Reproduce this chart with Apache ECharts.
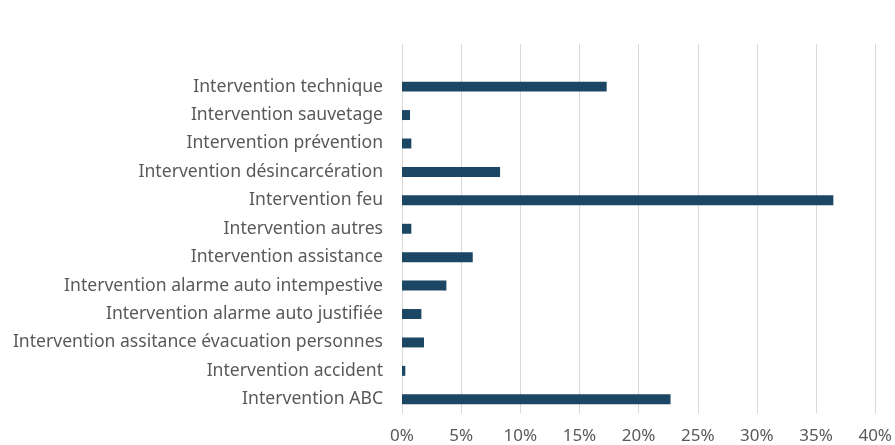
<!DOCTYPE html>
<html>
<head>
<meta charset="utf-8">
<script src="https://cdn.jsdelivr.net/npm/echarts@6/dist/echarts.min.js"></script>
<style>
	html, body {margin: 0; padding: 0; background: #fff;}
	#chart {width: 895px; height: 445px;}
</style>
</head>
<body>
<div id="chart"></div>
<script>
	// bottom to top
	var categories = [
		'Intervention ABC',
		'Intervention accident',
		'Intervention assitance évacuation personnes',
		'Intervention alarme auto justifiée',
		'Intervention alarme auto intempestive',
		'Intervention assistance',
		'Intervention autres',
		'Intervention feu',
		'Intervention désincarcération',
		'Intervention prévention',
		'Intervention sauvetage',
		'Intervention technique'
	];
	// share of interventions, in %
	var shares = [22.7, 0.28, 1.86, 1.64, 3.75, 5.98, 0.79, 36.46, 8.29, 0.79, 0.68, 17.3];

	var xTicks = [0, 5, 10, 15, 20, 25, 30, 35, 40];

	var textColor = '#595959';
	var font = '"Noto Sans", "Open Sans", sans-serif';

	var chart = echarts.init(document.getElementById('chart'));

	// one empty slot on top, as the original leaves a gap there
	var yData = categories.concat(['']);
	var seriesData = shares.concat(['-']);

	chart.setOption({
		animation: false,
		grid: {
			left: 402,
			right: 19,
			top: 44,
			bottom: 31.5,
			containLabel: false
		},
		xAxis: {
			type: 'value',
			min: xTicks[0],
			max: xTicks[xTicks.length - 1],
			interval: 5,
			axisLine: {show: false},
			axisTick: {show: false},
			splitLine: {
				show: true,
				lineStyle: {color: '#d9d9d9', width: 1}
			},
			axisLabel: {
				color: textColor,
				fontFamily: font,
				fontSize: 17,
				margin: 14,
				formatter: '{value}%'
			}
		},
		yAxis: {
			type: 'category',
			data: yData,
			axisLine: {show: false},
			axisTick: {show: false},
			splitLine: {show: false},
			axisLabel: {
				color: textColor,
				fontFamily: font,
				fontSize: 17.6,
				margin: 19
			}
		},
		series: [{
			type: 'bar',
			data: seriesData,
			barWidth: '35%',
			itemStyle: {color: '#1b4664'}
		}]
	});
</script>
</body>
</html>
